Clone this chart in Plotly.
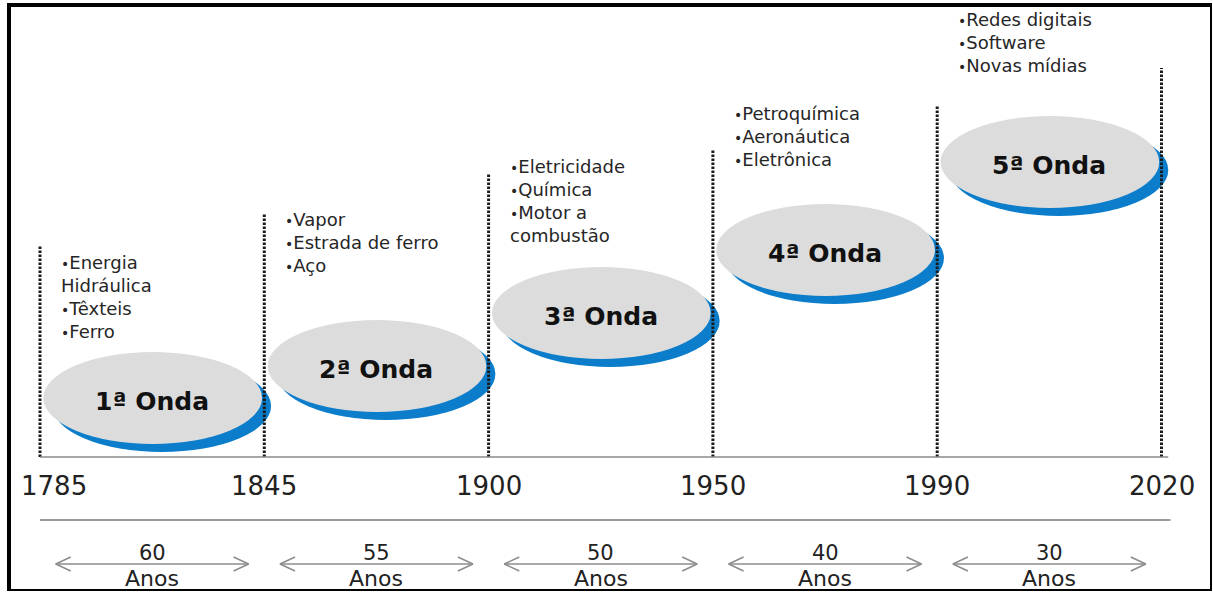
import plotly.graph_objects as go

# ---------------- data ----------------
years = ["1785", "1845", "1900", "1950", "1990", "2020"]
waves = ["1ª Onda", "2ª Onda", "3ª Onda", "4ª Onda", "5ª Onda"]
durations = ["60", "55", "50", "40", "30"]
duration_unit = "Anos"
technologies = [
    ["•Energia", "Hidráulica", "•Têxteis", "•Ferro"],
    ["•Vapor", "•Estrada de ferro", "•Aço"],
    ["•Eletricidade", "•Química", "•Motor a", "combustão"],
    ["•Petroquímica", "•Aeronáutica", "•Eletrônica"],
    ["•Redes digitais", "•Software", "•Novas mídias"],
]

# ---------------- layout (positions / styles) ----------------
W, H = 1213, 592
X0_PX, STEP_PX = 40.0, 224.3      # pixel of first boundary, spacing between boundaries
BASE_PX = 457                      # baseline pixel row
ellipse_center = [59, 91, 144, 207, 295]      # height above baseline
ellipse_half_h = 46
divider_top = [212, 244, 284, 307, 352, 389]  # height above baseline
text_top = [195, 238, 291, 344, 438]
line_gap = 23
FONT = "DejaVu Sans"
GRAY_FILL = "#dcdcdc"
BLUE = "#0b7dcb"
TEXT = "#262626"
LINE_GRAY = "#8c8c8c"

px = 1.0 / STEP_PX  # one pixel in x units


def bullet_text(t):
    if t.startswith("•"):
        return "<span style='font-size:14px'>•</span>" + t[1:]
    return t


fig = go.Figure()
shapes = []
annotations = []

# dotted vertical dividers
for i, top in enumerate(divider_top):
    shapes.append(dict(type="line", xref="x", yref="y", x0=i, x1=i, y0=0, y1=top,
                       line=dict(color="#1a1a1a", width=3, dash="2.5px,1.5px")))

# baseline and lower separator
n = len(years) - 1
shapes.append(dict(type="line", xref="x", yref="y", x0=0.0, x1=n + 0.03, y0=0, y1=0,
                   line=dict(color="#8a8a8a", width=1.5)))
shapes.append(dict(type="line", xref="x", yref="y", x0=0.0, x1=n + 0.04, y0=-63, y1=-63,
                   line=dict(color="#9a9a9a", width=2)))

# ellipses (blue shadow then gray)
for i, cy in enumerate(ellipse_center):
    shapes.append(dict(type="circle", xref="x", yref="y",
                       x0=i + 0.015 + 9 * px, x1=i + 0.99 + 9 * px,
                       y0=cy - ellipse_half_h - 8, y1=cy + ellipse_half_h - 8,
                       fillcolor=BLUE, line=dict(width=0), layer="below"))
    shapes.append(dict(type="circle", xref="x", yref="y",
                       x0=i + 0.015, x1=i + 0.99,
                       y0=cy - ellipse_half_h, y1=cy + ellipse_half_h,
                       fillcolor=GRAY_FILL, line=dict(width=0), layer="below"))
    annotations.append(dict(x=i + 0.5, y=cy, xref="x", yref="y", text=f"<b>{waves[i]}</b>",
                            showarrow=False, yshift=-3,
                            font=dict(family=FONT, size=25, color="#111111")))

# technology lists
for i, items in enumerate(technologies):
    for k, t in enumerate(items):
        annotations.append(dict(x=i + 0.085, y=text_top[i] - k * line_gap, xref="x", yref="y",
                                text=bullet_text(t), showarrow=False, xanchor="left",
                                yanchor="middle",
                                font=dict(family=FONT, size=18, color=TEXT)))

# year labels
for i, yr in enumerate(years):
    annotations.append(dict(x=i, y=-29, xref="x", yref="y", text=yr, showarrow=False,
                            xshift=14 if i == 0 else 0,
                            font=dict(family=FONT, size=26, color="#222222")))

# duration arrows
ax, ay = [], []
cw, ch = 15 * px, 7
for i, d in enumerate(durations):
    a0, a1 = i + 0.07, i + 0.93
    ax += [a0, a1, None, a0 + cw, a0, a0 + cw, None, a1 - cw, a1, a1 - cw, None]
    ay += [-107, -107, None, -107 + ch, -107, -107 - ch, None, -107 + ch, -107, -107 - ch, None]
    annotations.append(dict(x=i + 0.5, y=-96, xref="x", yref="y", text=d, showarrow=False,
                            borderpad=0,
                            font=dict(family=FONT, size=21, color="#222222")))
    annotations.append(dict(x=i + 0.5, y=-121, xref="x", yref="y", text=duration_unit,
                            showarrow=False, borderpad=0,
                            font=dict(family=FONT, size=22, color="#222222")))
fig.add_trace(go.Scatter(x=ax, y=ay, mode="lines", line=dict(color=LINE_GRAY, width=1.5),
                         hoverinfo="skip", showlegend=False))

# frame
shapes += [
    dict(type="line", xref="paper", yref="paper", x0=9 / W, x1=9 / W, y0=1 - 3 / H, y1=1 - 591 / H,
         line=dict(color="black", width=4)),
    dict(type="line", xref="paper", yref="paper", x0=7 / W, x1=1212 / W, y0=1 - 5 / H, y1=1 - 5 / H,
         line=dict(color="black", width=4)),
    dict(type="line", xref="paper", yref="paper", x0=1211 / W, x1=1211 / W, y0=1 - 3 / H, y1=1 - 591 / H,
         line=dict(color="black", width=2)),
    dict(type="line", xref="paper", yref="paper", x0=7 / W, x1=1212 / W, y0=1 - 590 / H, y1=1 - 590 / H,
         line=dict(color="black", width=2)),
]

fig.update_layout(
    width=W, height=H, margin=dict(l=0, r=0, t=0, b=0),
    paper_bgcolor="white", plot_bgcolor="white",
    xaxis=dict(visible=False, range=[-X0_PX / STEP_PX, (W - X0_PX) / STEP_PX], fixedrange=True),
    yaxis=dict(visible=False, range=[BASE_PX - H, BASE_PX], fixedrange=True),
    shapes=shapes, annotations=annotations, showlegend=False,
)

fig.write_html("out.html", config={"displayModeBar": False, "staticPlot": True},
               post_script="document.body.style.margin='0';")
